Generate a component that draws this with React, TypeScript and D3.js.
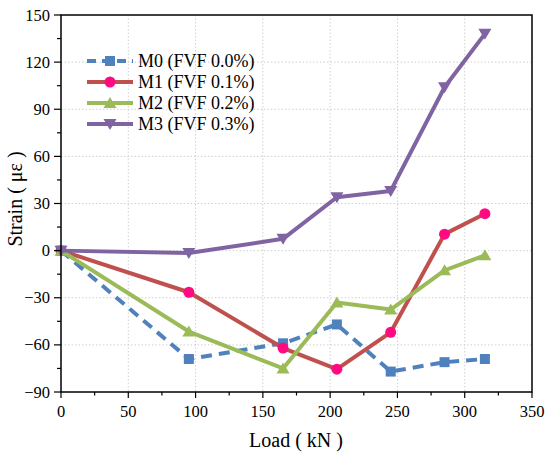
import React from "react";
import * as d3 from "d3";

const loads = [0, 95, 165, 205, 245, 285, 315];
const m0 = [0, -69, -59, -47, -77, -71, -69];
const m1 = [0, -26.5, -62, -75.5, -52, 10.5, 23.5];
const m2 = [0, -51.5, -75, -33, -37.5, -12.5, -3];
const m3 = [0, -1.5, 7.5, 34, 38, 104, 138];
const seriesNames = ["M0 (FVF 0.0%)", "M1 (FVF 0.1%)", "M2 (FVF 0.2%)", "M3 (FVF 0.3%)"];
const xTicks = [0, 50, 100, 150, 200, 250, 300, 350];
const yTicks = [-90, -60, -30, 0, 30, 60, 90, 120, 150];

const W = 550, H = 453;
const L = 61, R = 532, T = 15, B = 392;
const font = "'Liberation Serif', 'Times New Roman', serif";

const series = [
  { name: seriesNames[0], values: m0, color: "#4F81BD", marker: "square", markerColor: "#4F81BD", dash: "11,7" },
  { name: seriesNames[1], values: m1, color: "#C0504D", marker: "circle", markerColor: "#FF0A80", dash: undefined },
  { name: seriesNames[2], values: m2, color: "#9BBB59", marker: "triUp", markerColor: "#9BBB59", dash: undefined },
  { name: seriesNames[3], values: m3, color: "#8064A2", marker: "triDown", markerColor: "#8064A2", dash: undefined },
];

function Marker({ type, x, y, color }: { type: string; x: number; y: number; color: string }) {
  if (type === "square") return <rect x={x - 5} y={y - 5} width={10} height={10} fill={color} />;
  if (type === "circle") return <circle cx={x} cy={y} r={5.5} fill={color} />;
  if (type === "triUp") return <path d={`M${x},${y - 6} L${x + 6.5},${y + 5} L${x - 6.5},${y + 5} Z`} fill={color} />;
  return <path d={`M${x},${y + 6} L${x + 6.5},${y - 5} L${x - 6.5},${y - 5} Z`} fill={color} />;
}

export default function App() {
  const x = d3.scaleLinear().domain([0, 350]).range([L, R]);
  const y = d3.scaleLinear().domain([-90, 150]).range([B, T]);
  const xMinor = d3.range(0, 351, 25);
  const yMinor = d3.range(-90, 151, 15);
  const line = d3.line<number>().x((_, i) => x(loads[i])).y((d) => y(d));
  const legendY = [61, 82, 103, 124];

  return (
    <svg width={W} height={H} style={{ position: "absolute", left: 0, top: 0, background: "#fff" }} fontFamily={font}>
      <rect x={0} y={0} width={W} height={H} fill="#fff" />
      {/* grid */}
      {xTicks.slice(1, -1).map((t) => (
        <line key={"gx" + t} x1={x(t)} x2={x(t)} y1={T} y2={B} stroke="#d0d0d0" strokeWidth={1} strokeDasharray="1.5,2" />
      ))}
      {yTicks.slice(1, -1).map((t) => (
        <line key={"gy" + t} x1={L} x2={R} y1={y(t)} y2={y(t)} stroke="#d0d0d0" strokeWidth={1} strokeDasharray="1.5,2" />
      ))}
      {/* series */}
      {series.map((s) => (
        <g key={s.name}>
          <path d={line(s.values) || ""} fill="none" stroke={s.color} strokeWidth={4} strokeDasharray={s.dash} strokeLinejoin="round" />
          {s.values.map((v, i) => (
            <Marker key={i} type={s.marker} x={x(loads[i])} y={y(v)} color={s.markerColor} />
          ))}
        </g>
      ))}
      {/* frame */}
      <rect x={L} y={T} width={R - L} height={B - T} fill="none" stroke="#000" strokeWidth={1.5} />
      {/* x ticks */}
      {xMinor.map((t) => (
        <line key={"xm" + t} x1={x(t)} x2={x(t)} y1={B} y2={B + (t % 50 === 0 ? 6 : 3.5)} stroke="#000" strokeWidth={1.2} />
      ))}
      {xTicks.map((t) => (
        <text key={"xt" + t} x={x(t)} y={417} fontSize={16.5} textAnchor="middle" fill="#000">{t}</text>
      ))}
      {/* y ticks */}
      {yMinor.map((t) => (
        <line key={"ym" + t} x1={L} x2={L - ((t + 90) % 30 === 0 ? 7 : 4)} y1={y(t)} y2={y(t)} stroke="#000" strokeWidth={1.2} />
      ))}
      {yTicks.map((t) => (
        <text key={"yt" + t} x={50} y={y(t) + 5.5} fontSize={16.5} textAnchor="end" fill="#000">{t < 0 ? "\u2212" + Math.abs(t) : t}</text>
      ))}
      {/* axis titles */}
      <text x={296} y={447} fontSize={20} textAnchor="middle" fill="#000">Load ( kN )</text>
      <text transform={`translate(22,199) rotate(-90)`} fontSize={20} textAnchor="middle" fill="#000">Strain ( με )</text>
      {/* legend */}
      {series.map((s, i) => (
        <g key={"lg" + i}>
          <line x1={87} x2={133} y1={legendY[i]} y2={legendY[i]} stroke={s.color} strokeWidth={4} strokeDasharray={s.dash ? "9,6" : undefined} />
          <Marker type={s.marker} x={110} y={legendY[i]} color={s.markerColor} />
          <text x={138} y={legendY[i] + 6} fontSize={18} fill="#000">{s.name}</text>
        </g>
      ))}
    </svg>
  );
}
